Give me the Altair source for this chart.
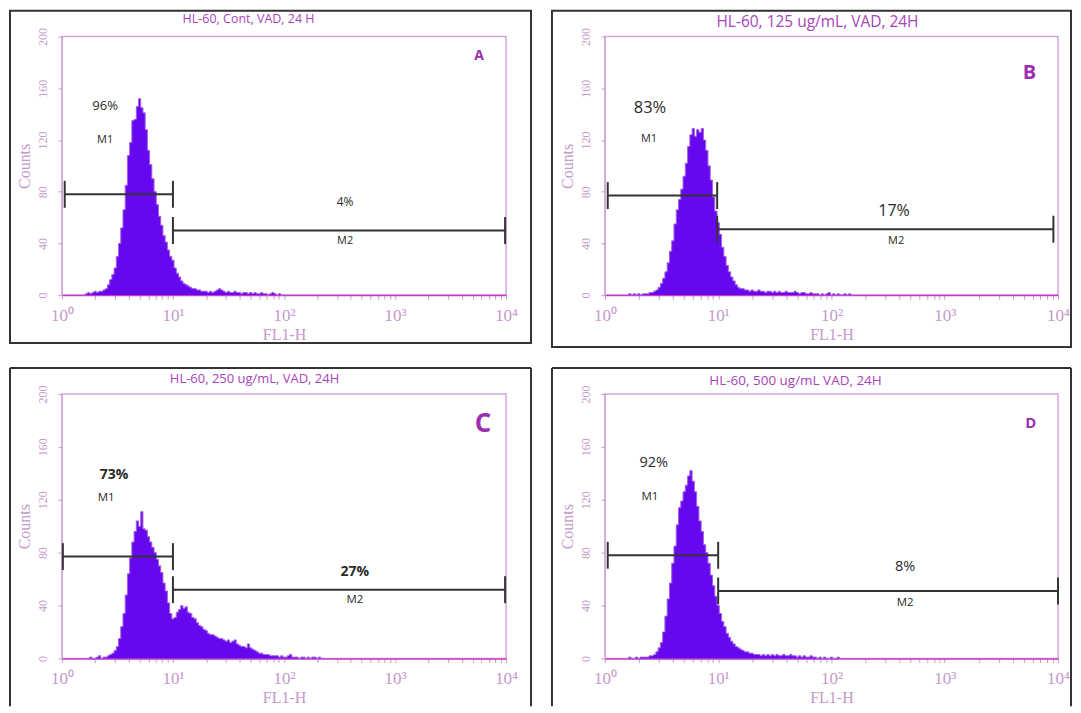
import altair as alt
import pandas as pd

# ---------------- data ----------------
LOG_START = 0.20   # log10 of the first histogram channel
LOG_STEP = 0.02    # log10 width of each channel

counts_a = [0, 1, 2, 1, 2, 3, 2, 3, 3, 4,
            5, 8, 12, 16, 21, 30, 40, 52, 66, 85,
            108, 118, 135, 136, 146, 152, 145, 141, 128, 112,
            101, 90, 80, 70, 61, 54, 46, 41, 35, 30,
            27, 21, 17, 14, 11, 9, 8, 7, 6, 5,
            5, 4, 4, 3, 3, 3, 2, 3, 2, 3,
            4, 5, 4, 3, 2, 3, 2, 2, 3, 2,
            2, 1, 2, 2, 1, 2, 1, 2, 1, 1,
            2, 1, 1, 0, 1, 2, 1, 0, 1, 0,
            0]

counts_b = [0, 1, 0, 1, 0, 1, 0, 1, 1, 1,
            2, 2, 3, 4, 6, 9, 13, 18, 25, 34,
            42, 55, 66, 74, 82, 92, 102, 115, 124, 129,
            123, 128, 126, 129, 120, 112, 100, 89, 76, 65,
            56, 47, 37, 30, 23, 18, 14, 11, 8, 6,
            5, 5, 4, 4, 3, 4, 3, 3, 4, 3,
            3, 2, 3, 3, 2, 3, 2, 3, 2, 2,
            3, 2, 2, 2, 3, 2, 1, 2, 2, 1,
            1, 2, 1, 1, 1, 0, 1, 0, 1, 2,
            0, 1, 0, 1, 0, 0, 1, 0, 1, 0,
            0]

counts_c = [0, 0, 0, 1, 0, 0, 1, 2, 0, 1,
            1, 2, 3, 4, 6, 9, 15, 24, 34, 48,
            64, 76, 88, 96, 104, 100, 111, 98, 97, 92,
            88, 84, 80, 75, 70, 65, 57, 51, 42, 34,
            30, 31, 35, 37, 40, 38, 39, 35, 34, 31,
            30, 27, 25, 24, 22, 21, 19, 18, 18, 17,
            16, 15, 15, 14, 13, 14, 12, 13, 14, 11,
            10, 9, 9, 8, 11, 8, 7, 6, 5, 4,
            4, 3, 3, 3, 2, 2, 2, 2, 1, 2,
            1, 1, 2, 3, 1, 1, 1, 0, 1, 1,
            0, 1, 0, 1, 1, 0, 1, 0, 0]

counts_d = [0, 1, 0, 0, 1, 0, 1, 1, 1, 1,
            2, 2, 3, 5, 8, 12, 20, 32, 45, 57,
            72, 85, 101, 114, 119, 126, 131, 138, 142, 134,
            126, 115, 104, 96, 86, 80, 72, 63, 55, 47,
            40, 34, 28, 24, 19, 16, 13, 11, 9, 8,
            7, 6, 5, 5, 4, 4, 3, 3, 3, 2,
            3, 2, 3, 2, 3, 2, 3, 2, 2, 3,
            2, 2, 3, 2, 2, 1, 2, 1, 2, 1,
            1, 2, 1, 1, 0, 1, 0, 1, 0, 0,
            1, 0, 0, 1, 0, 0]

panel_counts = [counts_a, counts_b, counts_c, counts_d]
panel_titles = ["HL-60, Cont, VAD, 24 H", "HL-60, 125 ug/mL, VAD, 24H",
                "HL-60, 250 ug/mL, VAD, 24H", "HL-60, 500 ug/mL VAD, 24H"]
panel_letters = ["A", "B", "C", "D"]
m1_pct = ["96%", "83%", "73%", "92%"]
m2_pct = ["4%", "17%", "27%", "8%"]

# marker gates (FL1-H range and Counts level)
m1_start = [1.06, 1.06, 1.02, 1.06]
m1_end = [10, 9.8, 10, 10]
m1_level = [78, 77, 77, 78]
m2_start = [10, 9.8, 10, 10]
m2_end = [9800, 9100, 9800, 10000]
m2_level = [50, 51, 52, 51]

# annotation anchor points in data units (FL1-H, Counts)
pct1_pos = [(2.45, 146), (2.5, 145), (2.95, 139), (2.7, 148)]
m1lab_pos = [(2.45, 120), (2.45, 121), (2.5, 121), (2.5, 122)]
pct2_pos = [(355, 72), (357, 65), (435, 65), (447, 69)]
m2lab_pos = [(355, 42), (372, 42), (435, 44), (447, 42)]
letter_pos = [(5700, 185), (5600, 172), (6200, 177), (5750, 178)]

x_tick_values = [m * 10 ** k for k in range(4) for m in range(1, 10)] + [10000]
y_tick_values = list(range(0, 201, 10))

# ---------------- styles ----------------
FILL = "#6608ee"
EDGE = "#a560e6"
AXIS_PINK = "#c39ac9"
BASE_MAGENTA = "#c83cc8"
TITLE_PURPLE = "#a744bb"
LETTER_PURPLE = "#9c2fb0"
DARK = "#2a2a2a"
FRAME = "#333333"
SANS = "Open Sans"
SERIF = "Liberation Serif"

style = [
    dict(W=445, H=259, tsize=12.5, tx=187, ty=-18, psize=13, p2size=12, pbold="normal",
         msize=11, lsize=14, box=(-52, 25, -26, 48), bottom_edge=True),
    dict(W=454, H=259, tsize=15.5, tx=213, ty=-15, psize=16.5, p2size=16, pbold="normal",
         msize=11, lsize=20, box=(-53, 13, -26, 52), bottom_edge=True),
    dict(W=445, H=265, tsize=13, tx=193, ty=-15, psize=14, p2size=14, pbold="bold",
         msize=11.5, lsize=26, box=(-52, 25, -26, 48), bottom_edge=False),
    dict(W=454, H=265, tsize=13.5, tx=191, ty=-13, psize=14.5, p2size=14.5, pbold="normal",
         msize=11.5, lsize=15, box=(-53, 13, -26, 48), bottom_edge=False),
]

x_label_expr = ("datum.value == 1 ? '10\u2070' : datum.value == 10 ? '10\u00b9' : "
                "datum.value == 100 ? '10\u00b2' : datum.value == 1000 ? '10\u00b3' : "
                "datum.value == 10000 ? '10\u2074' : ''")


def make_panel(i):
    s = style[i]
    W, H = s["W"], s["H"]
    counts = panel_counts[i]
    hist = pd.DataFrame({
        "fl1": [10 ** (LOG_START + LOG_STEP * k) for k in range(len(counts))],
        "count": counts,
    })
    xs = alt.Scale(type="log", domain=[1, 10000], nice=False)
    ys = alt.Scale(domain=[0, 200], nice=False, zero=True)
    x_axis = alt.Axis(values=x_tick_values, labelExpr=x_label_expr, title="FL1-H",
                      labelFontSize=17, titleFontSize=16, labelOverlap=False, labelFlush=False,
                      tickSize=4, labelPadding=8, titlePadding=3, domainColor=BASE_MAGENTA,
                      domainWidth=1.5)
    y_axis = alt.Axis(values=y_tick_values, labelExpr="datum.value % 40 == 0 ? datum.label : ''",
                      labelAngle=270, labelAlign="center", labelBaseline="bottom",
                      title="Counts", labelFontSize=12, titleFontSize=16, tickSize=4,
                      labelPadding=8, titlePadding=4, labelOverlap=False, labelFlush=False,
                      domainColor="#d2a6da")

    one = pd.DataFrame({"k": [0]})
    bx0, bx1, by0, by1 = s["box"]
    frame_layers = []
    if s["bottom_edge"]:
        frame_layers.append(alt.Chart(one).mark_rect(
            fillOpacity=0, stroke=FRAME, strokeWidth=2
        ).encode(x=alt.value(bx0), x2=alt.value(W + bx1), y=alt.value(by0), y2=alt.value(H + by1)))
    else:
        edge = alt.Chart(one).mark_rule(color=FRAME, strokeWidth=2)
        frame_layers += [
            edge.encode(x=alt.value(bx0), x2=alt.value(W + bx1), y=alt.value(by0)),
            edge.encode(x=alt.value(bx0), y=alt.value(by0), y2=alt.value(H + by1)),
            edge.encode(x=alt.value(W + bx1), y=alt.value(by0), y2=alt.value(H + by1)),
        ]

    title = alt.Chart(pd.DataFrame({"t": [panel_titles[i]]})).mark_text(
        font=SANS, fontSize=s["tsize"], color=TITLE_PURPLE, align="center", baseline="middle"
    ).encode(x=alt.value(s["tx"]), y=alt.value(s["ty"]), text="t:N")

    area = alt.Chart(hist).mark_area(
        interpolate="step", color=FILL, opacity=1, fillOpacity=1,
        line={"color": EDGE, "strokeWidth": 1}
    ).encode(
        x=alt.X("fl1:Q", scale=xs, axis=x_axis),
        y=alt.Y("count:Q", scale=ys, axis=y_axis),
    )

    gates = pd.DataFrame({
        "x": [m1_start[i], m2_start[i]],
        "x2": [m1_end[i], m2_end[i]],
        "y": [m1_level[i], m2_level[i]],
    })
    rules = alt.Chart(gates).mark_rule(color=FRAME, strokeWidth=2).encode(
        x=alt.X("x:Q", scale=xs), x2="x2:Q", y=alt.Y("y:Q", scale=ys))

    ends = pd.DataFrame({
        "x": [m1_start[i], m1_end[i], m2_start[i], m2_end[i]],
        "y": [m1_level[i], m1_level[i], m2_level[i], m2_level[i]],
    })
    ticks = alt.Chart(ends).mark_tick(orient="vertical", size=27, thickness=2,
                                      color=FRAME, opacity=1).encode(
        x=alt.X("x:Q", scale=xs), y=alt.Y("y:Q", scale=ys))

    def txt(pos, text, size, weight, color, font=SANS):
        df = pd.DataFrame({"x": [pos[0]], "y": [pos[1]], "t": [text]})
        return alt.Chart(df).mark_text(
            font=font, fontSize=size, fontWeight=weight, color=color,
            align="center", baseline="middle"
        ).encode(x=alt.X("x:Q", scale=xs), y=alt.Y("y:Q", scale=ys), text="t:N")

    labels = [
        txt(pct1_pos[i], m1_pct[i], s["psize"], s["pbold"], DARK),
        txt(m1lab_pos[i], "M1", s["msize"], "normal", DARK),
        txt(pct2_pos[i], m2_pct[i], s["p2size"], s["pbold"], DARK),
        txt(m2lab_pos[i], "M2", s["msize"], "normal", DARK),
        txt(letter_pos[i], panel_letters[i], s["lsize"], "bold", LETTER_PURPLE),
    ]

    return alt.layer(*frame_layers, title, area, rules, ticks, *labels).properties(width=W, height=H)


chart = alt.concat(
    make_panel(0), make_panel(1), make_panel(2), make_panel(3),
    columns=2, spacing=99, bounds="flush"
).properties(
    padding=0, background="white"
).configure_axis(
    labelFont=SERIF, titleFont=SERIF, labelColor=AXIS_PINK, titleColor=AXIS_PINK,
    tickColor=AXIS_PINK, grid=False, titleFontWeight="normal"
).configure_view(stroke="#d2a6da", strokeWidth=1.5)

chart.save("out.html", embed_options={"renderer": "svg", "actions": False})
